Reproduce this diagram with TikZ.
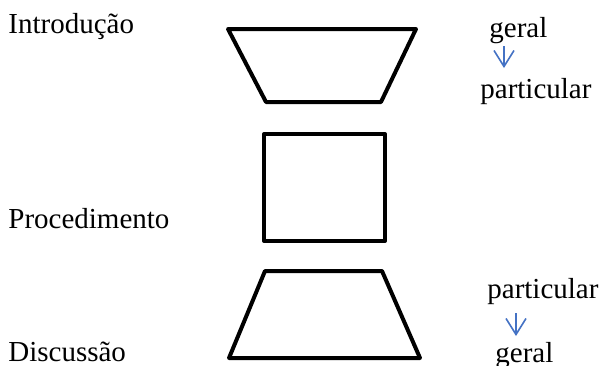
\documentclass[tikz,border=0pt]{standalone}
\usepackage{fontspec}
\setmainfont{Liberation Serif}
\usetikzlibrary{arrows.meta,positioning}
\definecolor{arrowblue}{RGB}{68,114,196}

\tikzset{
  block/.style={line width=2pt, line join=round},
  txt/.style={inner sep=0pt, anchor=base west, font=\fontsize{14.5}{17}\selectfont},
  arr/.style={draw=arrowblue, line width=0.8pt, -{Straight Barb[length=8pt,width=10pt]}}
}

\begin{document}
\begin{tikzpicture}[x=0.5pt,y=-0.5pt]
\useasboundingbox (0,0) rectangle (601,365);
%
% shapes
\draw[block] (228,29) -- (416,29) -- (381,102) -- (266,102) -- cycle;
\draw[block] (264,134) rectangle (385,241);
\draw[block] (265,271) -- (382,271) -- (420,358) -- (229,358) -- cycle;
%
% left labels
\node[txt] (intro) at (8,33) {Introdução};
\node[txt] (proc) at (8,228) {Procedimento};
\node[txt] (disc) at (8,361) {Discussão};
%
% right labels
\node[txt] (geralA) at (489,37) {geral};
\node[txt] (partA) at (480,98) {particular};
\node[txt] (partB) at (487,298) {particular};
\node[txt] (geralB) at (495,362) {geral};
%
\coordinate (a1) at (504,46);
\coordinate (a2) at (504,68);
\draw[arr] (a1) -- (a2);
%
\coordinate (b1) at (516,313);
\coordinate (b2) at (516,336);
\draw[arr] (b1) -- (b2);
%
\end{tikzpicture}
\end{document}
